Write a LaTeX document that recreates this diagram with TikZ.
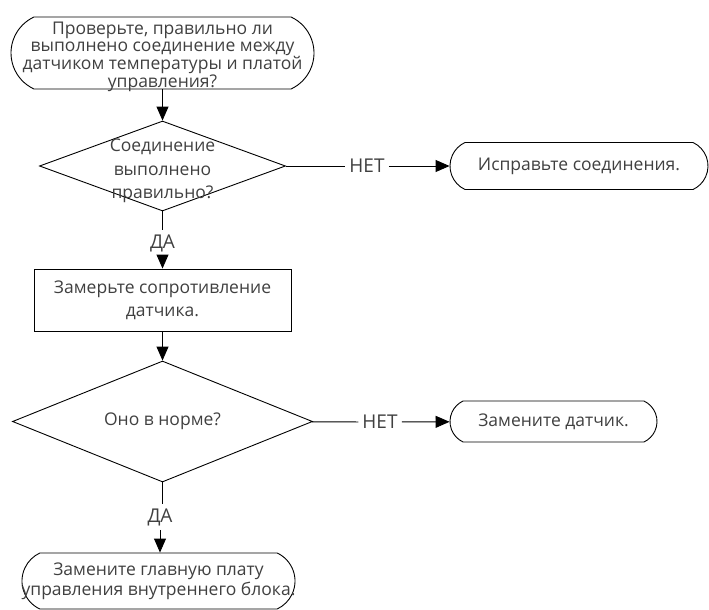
\documentclass[tikz,border=0pt]{standalone}
\usepackage{fontspec}
\setmainfont{Open Sans}
\usetikzlibrary{arrows.meta,shapes.geometric,shapes.misc}
\definecolor{txtgray}{gray}{0.25}

\tikzset{
	base/.style={draw, line width=0.9pt, inner sep=0pt, text=txtgray, align=center},
	term/.style={base, rounded rectangle, rounded rectangle arc length=130},
	decision/.style={base, diamond},
	procbox/.style={base, rectangle},
	inner text/.style={inner sep=0pt, text=txtgray, align=center},
	answer/.style={font=\fontsize{19}{21}\selectfont, text=txtgray, inner sep=4pt},
	flow/.style={line width=0.9pt, -{Triangle[length=14pt, width=12pt]}},
	plain/.style={line width=0.9pt}
}

\begin{document}
\begin{tikzpicture}[x=1pt, y=-1pt, font=\fontsize{17.5}{19}\selectfont]

		% === page bounds ===
		\useasboundingbox (0,0) rectangle (709,610);
		\def\cx{162.5}	% main column

		% === Main column ===
		\node[term, minimum width=303pt, minimum height=72pt,
			label={[inner text, yshift=-4pt, font=\fontsize{17.5}{16.5}\selectfont]center:Проверьте, правильно ли\\выполнено соединение между\\датчиком температуры и платой\\управления?}]
			(check) at (\cx,53) {};
		\node[decision, minimum width=246pt, minimum height=90pt,
			label={[inner text, yshift=-5pt, font=\fontsize{17.5}{23.5}\selectfont]center:Соединение\\выполнено\\правильно?}]
			(conn) at (\cx,166) {};
		\node[answer] (yes1) at (\cx,243) {ДА};
		\node[procbox, minimum width=257pt, minimum height=62pt,
			font=\fontsize{17.5}{23}\selectfont] (measure) at (\cx,300) {Замерьте сопротивление\\датчика.};
		\node[decision, minimum width=300pt, minimum height=121pt,
			label={[inner text]center:Оно в норме?}]
			(norm) at (\cx,421.5) {};
		\node[answer] (yes2) at (160,517) {ДА};
		\node[term, minimum width=273pt, minimum height=56pt,
			label={[inner text, font=\fontsize{17.5}{20}\selectfont]center:Замените главную плату\\управления внутреннего блока.}]
			(board) at (158.5,581) {};

		% === Right column ===
		\node[answer] (no1) at (367,166) {НЕТ};
		\node[term, minimum width=258pt, minimum height=47pt] (fix) at (579,166) {Исправьте соединения.};
		\node[answer] (no2) at (380,422) {НЕТ};
		\node[term, minimum width=207pt, minimum height=41pt] (sensor) at (553.5,421.5) {Замените датчик.};

		% === Connectors ===
		\draw[flow] (check) -- (conn);
		\draw[plain] (conn) -- (no1);
		\draw[flow] (no1) -- (fix);
		\draw[plain] (conn) -- (yes1);
		\draw[flow] (yes1) -- (measure);
		\draw[flow] (measure) -- (norm);
		\draw[plain] (norm) -- (no2);
		\draw[flow] (no2) -- (sensor);
		\draw[plain] (norm) -- (norm.south |- yes2.north);
		\draw[flow] (yes2) -- (yes2 |- board.north);
	\end{tikzpicture}
\end{document}
